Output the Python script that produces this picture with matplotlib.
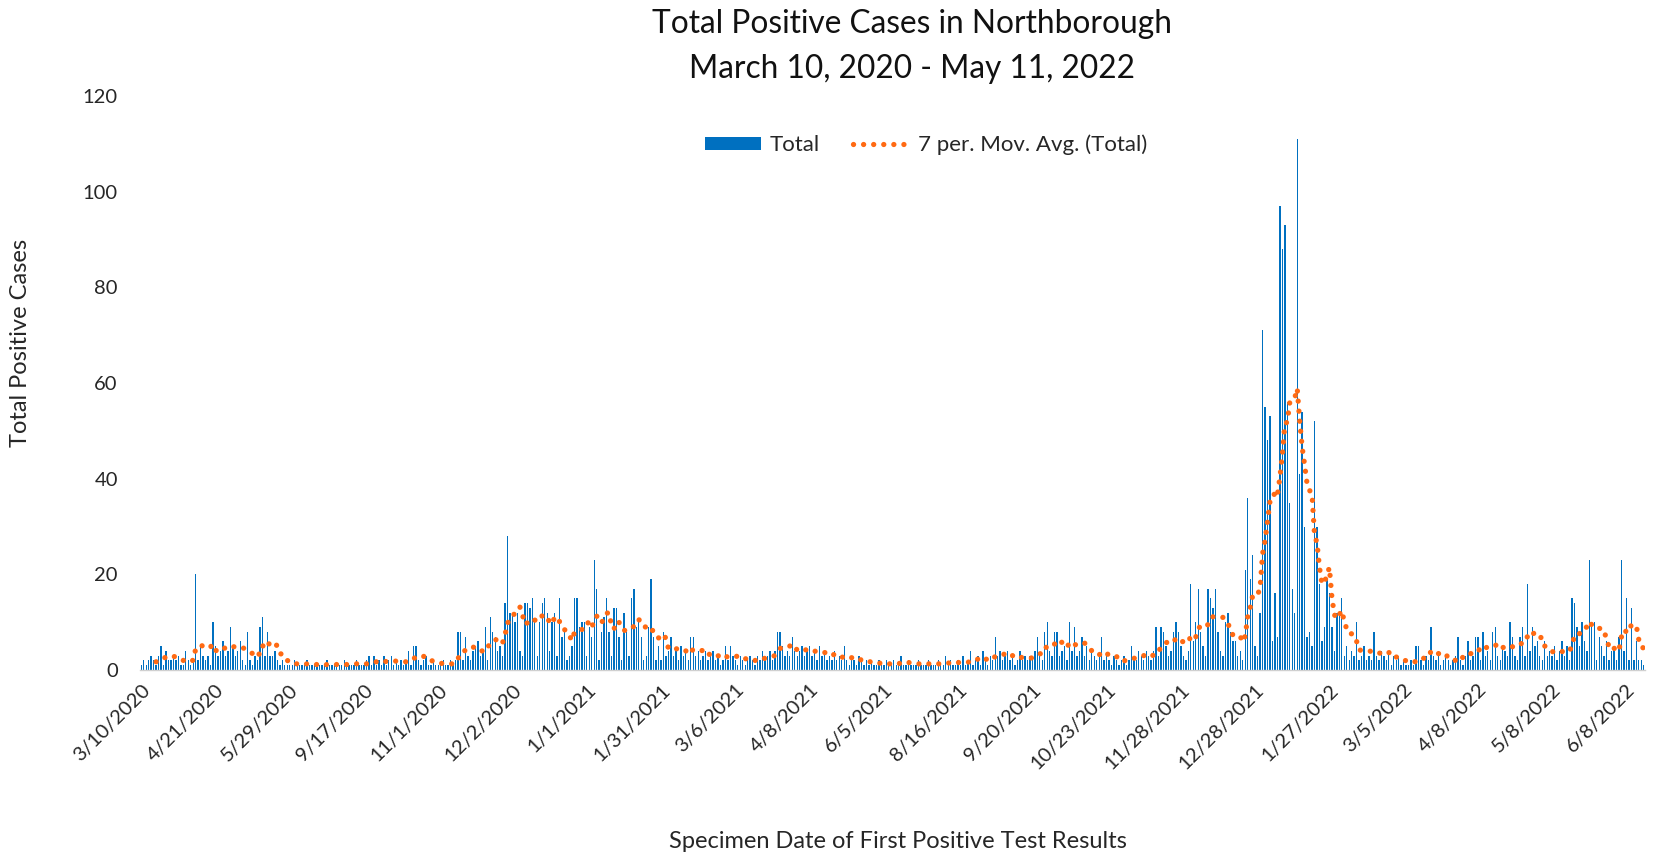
"""Daily positive cases in Northborough with a 7-day trailing moving average."""

import matplotlib

matplotlib.use("Agg")
import matplotlib.pyplot as plt
import numpy as np
import pandas as pd

plt.rcParams["font.family"] = ["Lato", "DejaVu Sans"]

TITLE_1 = "Total Positive Cases in Northborough"
TITLE_2 = "March 10, 2020 - May 11, 2022"
Y_TITLE = "Total Positive Cases"
X_TITLE = "Specimen Date of First Positive Test Results"
BAR_LABEL = "Total"
MA_LABEL = "7 per. Mov. Avg. (Total)"

TICK_EVERY = 30
TICK_LABELS = [
    "3/10/2020", "4/21/2020", "5/29/2020", "9/17/2020", "11/1/2020", "12/2/2020",
    "1/1/2021", "1/31/2021", "3/6/2021", "4/8/2021", "6/5/2021", "8/16/2021",
    "9/20/2021", "10/23/2021", "11/28/2021", "12/28/2021", "1/27/2022",
    "3/5/2022", "4/8/2022", "5/8/2022", "6/8/2022",
]

# daily totals, one list per labelled interval (30 report days each)
cases_from_0310_2020 = [1, 2, 1, 2, 3, 2, 1, 3, 5, 1, 4, 2, 2, 3, 2, 3, 1, 1, 4, 2,
                        1, 2, 20, 2, 5, 3, 2, 3, 1, 10]
cases_from_0421_2020 = [5, 3, 4, 6, 3, 4, 9, 5, 3, 4, 6, 2, 1, 8, 2, 1, 3, 2, 9, 11,
                        3, 8, 3, 3, 4, 2, 1, 2, 1, 1]
cases_from_0529_2020 = [1, 1, 2, 1, 1, 1, 1, 2, 1, 1, 1, 1, 1, 1, 1, 2, 1, 1, 1, 1,
                        1, 1, 2, 1, 1, 1, 1, 2, 1, 1]
cases_from_0917_2020 = [1, 2, 3, 1, 3, 1, 2, 1, 3, 1, 2, 3, 1, 2, 1, 2, 1, 2, 4, 1,
                        5, 5, 2, 1, 2, 3, 1, 1, 2, 1]
cases_from_1101_2020 = [1, 1, 2, 1, 1, 2, 1, 2, 8, 8, 2, 7, 3, 2, 4, 5, 6, 3, 4, 9,
                        2, 11, 8, 7, 4, 5, 3, 14, 28, 12]
cases_from_1202_2020 = [12, 10, 12, 4, 3, 14, 14, 13, 15, 10, 3, 10, 14, 15, 12, 4, 10, 12, 3, 15,
                        7, 8, 2, 3, 5, 15, 15, 9, 10, 10]
cases_from_0101_2021 = [3, 9, 7, 23, 17, 2, 8, 11, 15, 8, 3, 13, 13, 7, 2, 12, 8, 3, 15, 17,
                        9, 10, 7, 2, 3, 9, 19, 7, 2, 5]
cases_from_0131_2021 = [2, 8, 3, 4, 7, 3, 4, 2, 5, 3, 4, 2, 7, 7, 3, 4, 2, 3, 4, 2,
                        3, 4, 2, 3, 1, 2, 5, 2, 5, 3]
cases_from_0306_2021 = [2, 1, 3, 2, 1, 2, 3, 2, 1, 3, 2, 4, 2, 3, 4, 2, 4, 8, 8, 5,
                        3, 4, 3, 7, 4, 3, 4, 5, 3, 4]
cases_from_0408_2021 = [5, 3, 4, 2, 5, 3, 4, 2, 3, 2, 4, 2, 3, 2, 5, 2, 1, 3, 2, 1,
                        3, 2, 1, 2, 1, 2, 1, 1, 2, 1]
cases_from_0605_2021 = [1, 2, 1, 1, 2, 1, 1, 3, 1, 1, 2, 1, 1, 1, 2, 1, 1, 1, 2, 1,
                        1, 1, 2, 1, 1, 3, 1, 2, 1, 1]
cases_from_0816_2021 = [2, 1, 3, 1, 2, 4, 1, 2, 3, 1, 4, 2, 1, 3, 2, 7, 3, 4, 2, 3,
                        4, 2, 3, 1, 2, 4, 2, 3, 2, 3]
cases_from_0920_2021 = [2, 4, 7, 3, 2, 8, 10, 4, 3, 8, 8, 3, 4, 5, 2, 10, 4, 9, 3, 4,
                        7, 3, 5, 2, 4, 3, 2, 3, 7, 2]
cases_from_1023_2021 = [3, 2, 1, 3, 2, 1, 2, 3, 1, 2, 5, 3, 2, 4, 3, 2, 4, 3, 2, 4,
                        9, 3, 9, 8, 5, 3, 4, 8, 10, 8]
cases_from_1128_2021 = [5, 3, 2, 4, 18, 6, 10, 17, 8, 5, 3, 17, 15, 13, 17, 8, 4, 3, 10, 12,
                        8, 6, 6, 3, 4, 2, 21, 36, 19, 24]
cases_from_1228_2021 = [5, 3, 12, 71, 55, 48, 53, 6, 16, 7, 97, 88, 93, 56, 35, 17, 12, 111, 41, 54,
                        30, 7, 8, 5, 52, 30, 18, 6, 9, 19]
cases_from_0127_2022 = [16, 9, 4, 12, 12, 15, 3, 5, 2, 4, 3, 10, 2, 3, 5, 2, 3, 2, 8, 3,
                        2, 4, 3, 2, 4, 1, 3, 2, 3, 1]
cases_from_0305_2022 = [2, 1, 1, 2, 1, 5, 5, 2, 1, 3, 2, 9, 3, 2, 4, 1, 2, 3, 2, 1,
                        2, 3, 7, 2, 1, 3, 6, 2, 3, 7]
cases_from_0408_2022 = [7, 2, 8, 3, 4, 2, 8, 9, 3, 2, 5, 4, 3, 10, 7, 3, 2, 7, 9, 3,
                        18, 4, 9, 5, 6, 3, 2, 6, 3, 4]
cases_from_0508_2022 = [3, 5, 2, 4, 6, 3, 5, 2, 15, 14, 9, 5, 10, 6, 4, 23, 9, 10, 2, 7,
                        5, 3, 6, 2, 4, 5, 2, 7, 23, 4]
cases_from_0608_2022 = [15, 2, 13, 2, 6, 2, 2, 1]

BAR_COLOR = "#0070C0"
MA_COLOR = "#FF6A13"
TEXT_COLOR = "#262626"
W, H = 1655, 855


def all_cases() -> np.ndarray:
    parts = [
        cases_from_0310_2020, cases_from_0421_2020, cases_from_0529_2020,
        cases_from_0917_2020, cases_from_1101_2020, cases_from_1202_2020,
        cases_from_0101_2021, cases_from_0131_2021, cases_from_0306_2021,
        cases_from_0408_2021, cases_from_0605_2021, cases_from_0816_2021,
        cases_from_0920_2021, cases_from_1023_2021, cases_from_1128_2021,
        cases_from_1228_2021, cases_from_0127_2022, cases_from_0305_2022,
        cases_from_0408_2022, cases_from_0508_2022, cases_from_0608_2022,
    ]
    return np.array([v for p in parts for v in p], dtype=float)


def main() -> None:
    values = all_cases()
    n = len(values)
    x = np.arange(n)
    # Excel's "moving average" trendline is a trailing window
    ma = pd.Series(values).rolling(7).mean()

    fig = plt.figure(figsize=(W / 100, H / 100), dpi=100)
    ax = fig.add_axes([140 / W, 1 - 670 / H, 1505 / W, (670 - 96) / H])

    bars = ax.bar(x, values, width=0.55, color=BAR_COLOR, linewidth=0)
    (line,) = ax.plot(x, ma, color=MA_COLOR, lw=3.8, linestyle=(0, (0.01, 1.9)),
                      dash_capstyle="round")

    ax.set_xlim(-0.5, n - 0.5)
    ax.set_ylim(0, 120)
    ax.set_yticks(range(0, 121, 20))
    ax.set_xticks(range(0, n, TICK_EVERY))
    ax.set_xticklabels(TICK_LABELS, rotation=45, ha="right", va="top",
                       rotation_mode="anchor")
    ax.tick_params(axis="both", length=0, labelsize=14.5, colors=TEXT_COLOR)
    ax.tick_params(axis="y", pad=16)
    ax.tick_params(axis="x", pad=8)
    for side in ("left", "top", "right"):
        ax.spines[side].set_visible(False)
    ax.spines["bottom"].set_color("#D0D0D0")
    ax.spines["bottom"].set_linewidth(1.0)

    fig.legend([bars, line], [BAR_LABEL, MA_LABEL], loc="center",
               bbox_to_anchor=(926 / W, 1 - 145 / H), ncol=2, frameon=False,
               fontsize=16, handlelength=2.5, handleheight=0.5, handletextpad=0.4,
               columnspacing=1.5, labelcolor=TEXT_COLOR)

    fig.text(912 / W, 1 - 24 / H, TITLE_1, ha="center", va="center", fontsize=22.8,
             color="#111111")
    fig.text(912 / W, 1 - 69 / H, TITLE_2, ha="center", va="center", fontsize=22.8,
             color="#111111")
    fig.text(21 / W, 1 - 343 / H, Y_TITLE, rotation=90, ha="center", va="center",
             fontsize=17, color=TEXT_COLOR)
    fig.text(898 / W, 1 - 841 / H, X_TITLE, ha="center", va="center",
             fontsize=17, color=TEXT_COLOR)

    fig.savefig("out.png", dpi=100)
    plt.close(fig)


if __name__ == "__main__":
    main()
